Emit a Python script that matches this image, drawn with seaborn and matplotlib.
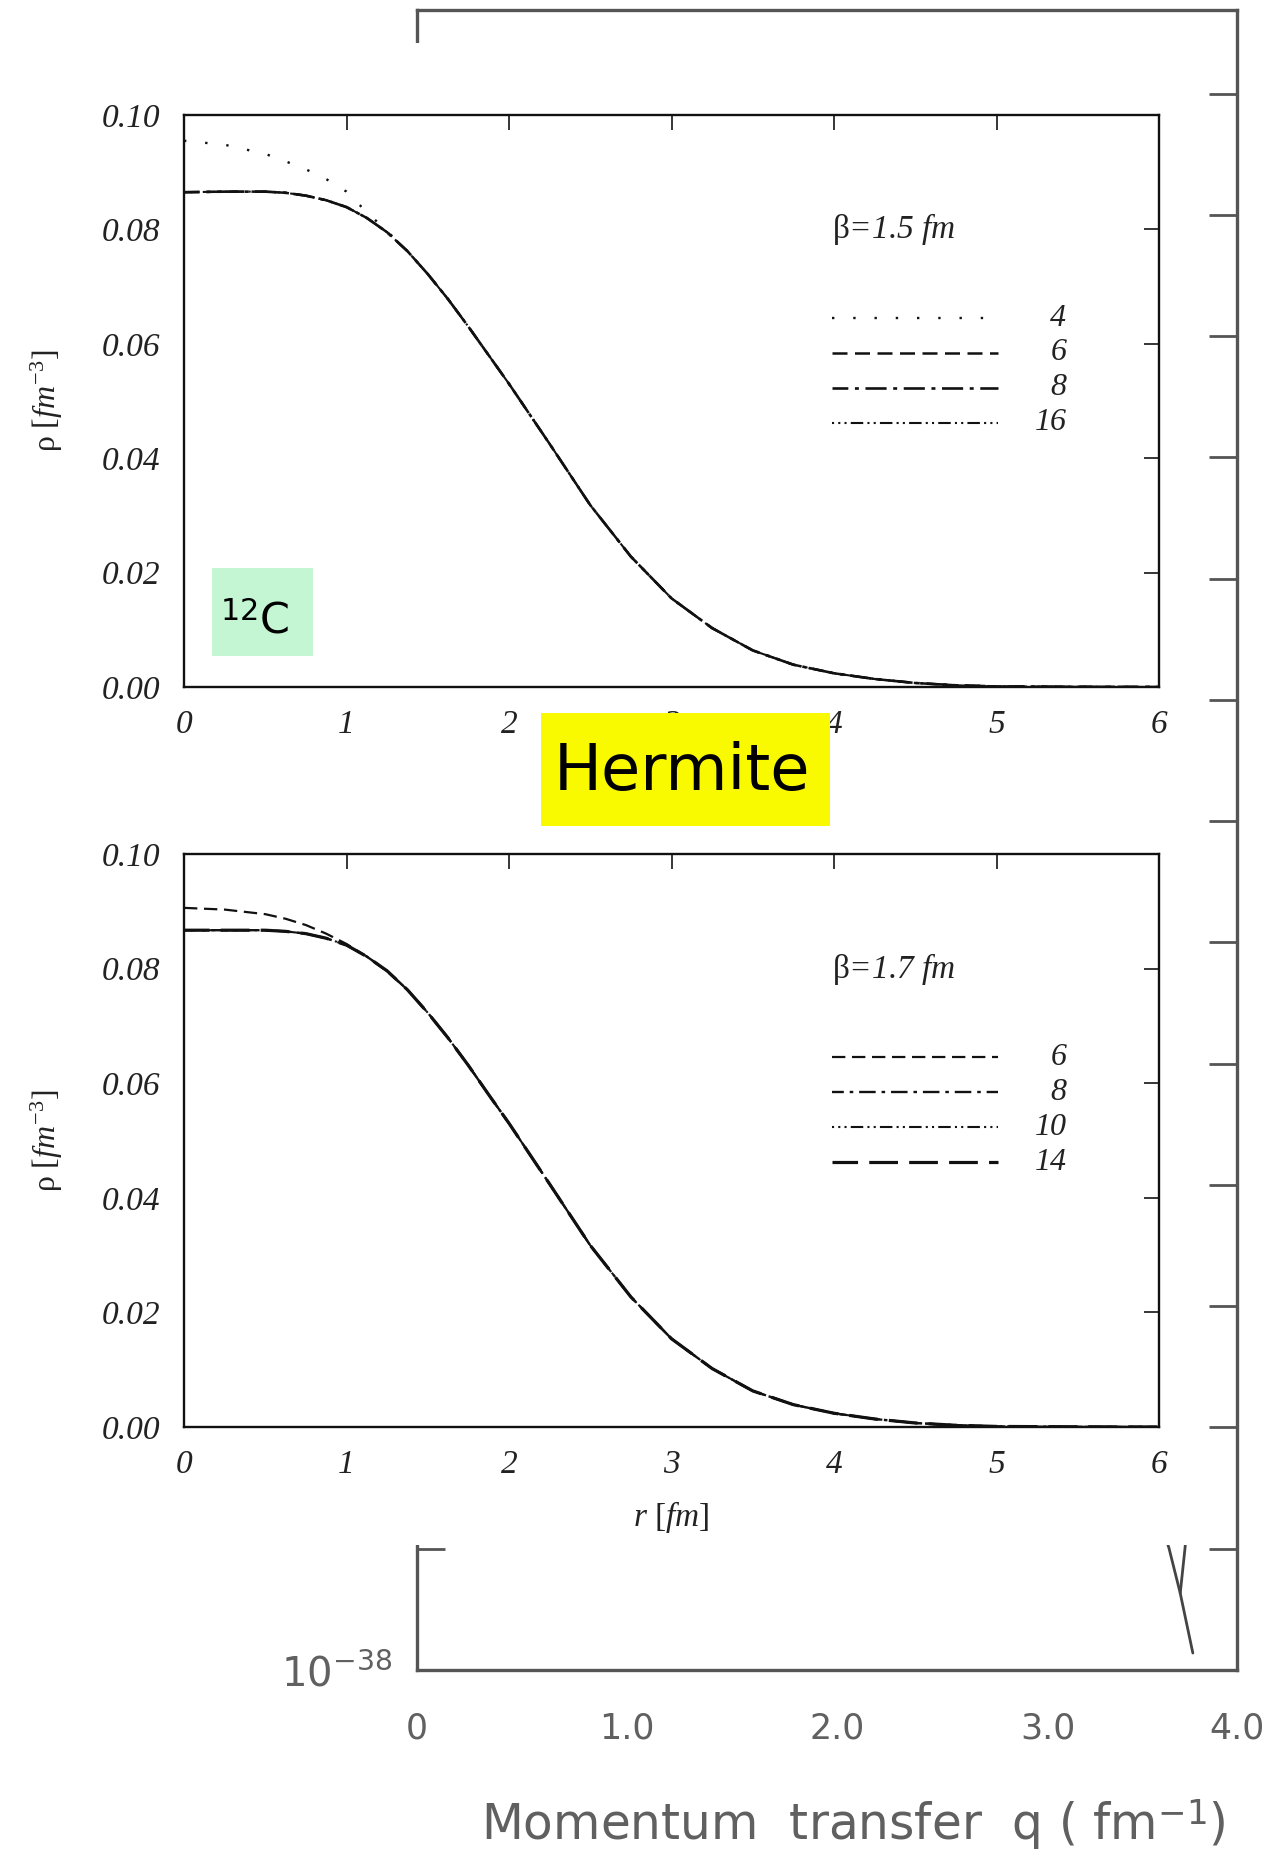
import numpy as np
import pandas as pd
import matplotlib
matplotlib.use("Agg")
import matplotlib.pyplot as plt
import seaborn as sns
from matplotlib.patches import Rectangle
from matplotlib.lines import Line2D
from matplotlib.ticker import FormatStrFormatter, NullLocator

# ---------------- data ----------------
r_fm = [0.0, 0.25, 0.5, 0.625, 0.75, 0.875, 1.0, 1.125, 1.25, 1.375, 1.5, 1.625, 1.75, 1.875,
        2.0, 2.25, 2.5, 2.75, 3.0, 3.25, 3.5, 3.75, 4.0, 4.25, 4.5, 4.75, 5.0, 5.5, 6.0]

# beta = 1.5 fm
rho_b15_n4 = [0.0955, 0.0948, 0.0932, 0.0919, 0.0905, 0.0888, 0.0866, 0.0830, 0.0797, 0.0762, 0.0722, 0.0678, 0.0630, 0.0580,
              0.0530, 0.0425, 0.0318, 0.0228, 0.0155, 0.0103, 0.0064, 0.0039, 0.0024, 0.0014, 0.0007, 0.0003, 0.0001, 0.00003, 0.0]
rho_b15_conv = [0.0865, 0.0866, 0.0866, 0.0864, 0.0859, 0.0851, 0.0839, 0.0820, 0.0795, 0.0762, 0.0722, 0.0678, 0.0630, 0.0580,
                0.0530, 0.0425, 0.0318, 0.0228, 0.0155, 0.0103, 0.0064, 0.0039, 0.0024, 0.0014, 0.0007, 0.0003, 0.0001, 0.00003, 0.0]

# beta = 1.7 fm
rho_b17_n6 = [0.0906, 0.0903, 0.0895, 0.0887, 0.0876, 0.0861, 0.0843, 0.0821, 0.0795, 0.0763, 0.0723, 0.0679, 0.0631, 0.0580,
              0.0530, 0.0424, 0.0317, 0.0227, 0.0154, 0.0102, 0.0063, 0.0039, 0.0024, 0.0014, 0.0007, 0.0003, 0.0001, 0.00003, 0.0]
rho_b17_conv = [0.0867, 0.0867, 0.0867, 0.0865, 0.0861, 0.0853, 0.0841, 0.0821, 0.0796, 0.0763, 0.0723, 0.0679, 0.0631, 0.0580,
                0.0530, 0.0424, 0.0317, 0.0227, 0.0154, 0.0102, 0.0063, 0.0039, 0.0024, 0.0014, 0.0007, 0.0003, 0.0001, 0.00003, 0.0]

labels_b15 = ["4", "6", "8", "16"]
labels_b17 = ["6", "8", "10", "14"]
series_b15 = {"4": rho_b15_n4, "6": rho_b15_conv, "8": rho_b15_conv, "16": rho_b15_conv}
series_b17 = {"6": rho_b17_n6, "8": rho_b17_conv, "10": rho_b17_conv, "14": rho_b17_conv}

# background (momentum-transfer) plot fragments
q_bg_a = [3.48, 3.576, 3.630, 3.690]
sig_bg_a = [3.2e-37, 1.02e-37, 4.3e-38, 1.38e-38]
q_bg_b = [3.630, 3.653, 3.675]
sig_bg_b = [4.3e-38, 1.02e-37, 3.2e-37]
bg_xticks = [0, 0.5, 1.0, 1.5, 2.0, 2.5, 3.0, 3.5, 3.9]
bg_xticklabels = ["0", "", "1.0", "", "2.0", "", "3.0", "", "4.0"]

# ---------------- style ----------------
sns.set_style("white")
plt.rcParams["font.family"] = ["Liberation Serif", "DejaVu Sans"]
plt.rcParams.update({
    "mathtext.fontset": "custom",
    "mathtext.rm": "Liberation Serif",
    "mathtext.it": "Liberation Serif:italic",
    "mathtext.bf": "Liberation Serif:bold",
    "mathtext.sf": "DejaVu Sans",
})

W, H = 1284, 1864
fig = plt.figure(figsize=(W / 100, H / 100), dpi=100)
fig.patch.set_facecolor("white")


def frect(x0, y0, x1, y1):
    return [x0 / W, 1 - y1 / H, (x1 - x0) / W, (y1 - y0) / H]


# ---------------- background plot ----------------
bg_col = "#555555"
ax_bg = fig.add_axes(frect(417, 10, 1237, 1670))
ax_bg.set_zorder(0)
ax_bg.set_yscale("log")
ax_bg.set_xlim(0, 3.9)
ax_bg.set_ylim(1e-38, 10 ** -24.31)
sns.lineplot(x=q_bg_a, y=sig_bg_a, ax=ax_bg, color="#444444", lw=2.0, sort=False, estimator=None)
sns.lineplot(x=q_bg_b, y=sig_bg_b, ax=ax_bg, color="#444444", lw=2.0, sort=False, estimator=None)
ax_bg.set_xticks(bg_xticks)
ax_bg.set_xticklabels(bg_xticklabels)
yt = [10.0 ** k for k in range(-38, -24)]
ax_bg.set_yticks(yt)
ax_bg.set_yticklabels([r"$\mathsf{10^{-38}}$"] + [""] * (len(yt) - 1))
ax_bg.yaxis.set_minor_locator(NullLocator())
ax_bg.tick_params(axis="x", direction="in", length=22, width=1.8, color=bg_col,
                  pad=30, labelsize=25, labelcolor="#606060", labelfontfamily="DejaVu Sans")
ax_bg.tick_params(axis="y", direction="in", length=20, width=2.0, color=bg_col,
                  left=True, right=True, pad=18, labelsize=29, labelcolor="#606060")
for s in ax_bg.spines.values():
    s.set_color(bg_col)
    s.set_linewidth(2.4)
fig.text(853 / W, 1 - 1825 / H, r"Momentum  transfer  q ( fm$^{\mathsf{-1}}$)",
         family="DejaVu Sans", fontsize=35, color="#606060", ha="center", va="center")

# white overlay
overlay = Rectangle((0, 1 - 1545 / H), 1195 / W, (1545 - 43) / H, transform=fig.transFigure,
                    facecolor="white", edgecolor="none", zorder=0.5)
fig.add_artist(overlay)

# ---------------- density panels ----------------
styles_b15 = {
    "4": dict(linestyle=(0, (1, 8)), lw=1.7),
    "6": dict(linestyle=(0, (6, 3)), lw=1.8),
    "8": dict(linestyle=(2, (8, 2.5, 1.5, 2.5)), lw=1.9),
    "16": dict(linestyle=(5, (6, 2, 1, 2, 1, 2)), lw=1.5),
}
styles_b17 = {
    "6": dict(linestyle=(0, (6, 3)), lw=1.6),
    "8": dict(linestyle=(2, (7, 2.5, 1.5, 2.5)), lw=1.7),
    "10": dict(linestyle=(5, (6, 2, 1, 2, 1, 2)), lw=1.5),
    "14": dict(linestyle=(1, (9, 3.5)), lw=2.3),
}


def panel(ax, series, labels, styles, beta_txt):
    ax.set_zorder(1)
    ax.set_facecolor("white")
    rows = []
    for n in labels:
        for rr, vv in zip(r_fm, series[n]):
            rows.append({"r": rr, "rho": vv, "N": n})
    df = pd.DataFrame(rows)
    for n in labels:
        sub = df[df["N"] == n]
        sns.lineplot(data=sub, x="r", y="rho", ax=ax, color="#111111", **styles[n])
    ax.set_xlim(0, 6)
    ax.set_ylim(0, 0.10)
    ax.set_xticks(range(0, 7))
    ax.set_yticks([0.0, 0.02, 0.04, 0.06, 0.08, 0.10])
    ax.yaxis.set_major_formatter(FormatStrFormatter("%.2f"))
    ax.tick_params(direction="in", top=True, right=True, length=11, width=1.3,
                   labelsize=24, labelcolor="#222222")
    ax.tick_params(axis="x", pad=16)
    ax.tick_params(axis="y", pad=17)
    for lbl in ax.get_xticklabels() + ax.get_yticklabels():
        lbl.set_fontstyle("italic")
    for s in ax.spines.values():
        s.set_linewidth(1.7)
        s.set_color("#111111")
    ax.set_xlabel("")
    ax.set_ylabel(r"$\mathrm{\rho}\ [fm^{-3}]$", fontsize=23, color="#222222")
    ax.yaxis.set_label_coords(-0.122, 0.5)
    # legend
    ax.text(0.665, 0.80, beta_txt, transform=ax.transAxes, fontsize=24, style="italic",
            ha="left", va="center", color="#222222")
    ys = [0.645, 0.584, 0.523, 0.462]
    for n, y in zip(labels, ys):
        ax.add_line(Line2D([0.665, 0.835], [y, y], transform=ax.transAxes,
                           color="#111111", **styles[n]))
        ax.text(0.905, y, n, transform=ax.transAxes, fontsize=23, style="italic",
                ha="right", va="center", color="#222222")
    if ax.get_legend() is not None:
        ax.get_legend().remove()


ax1 = fig.add_axes(frect(184, 115, 1159, 687))
panel(ax1, series_b15, labels_b15, styles_b15, r"$\mathrm{\beta}$=1.5 fm")
ax2 = fig.add_axes(frect(184, 854, 1159, 1427))
panel(ax2, series_b17, labels_b17, styles_b17, r"$\mathrm{\beta}$=1.7 fm")
ax2.set_xlabel(r"$r\ [fm]$", fontsize=24, color="#222222")
ax2.xaxis.set_label_coords(0.5, -0.125)

# 12C tag
ax1.add_patch(Rectangle((0.0287, 0.054), 0.1036, 0.154, transform=ax1.transAxes,
                        facecolor="#c4f6d4", edgecolor="none", zorder=3))
ax1.text(0.037, 0.094, r"$^{\mathsf{12}}$C", transform=ax1.transAxes, fontsize=31,
         family="DejaVu Sans", ha="left", va="baseline", color="black", zorder=4)

# Hermite tag
fig.add_artist(Rectangle((541 / W, 1 - 826 / H), (830 - 541) / W, (826 - 713) / H,
                         transform=fig.transFigure, facecolor="#f9f900", edgecolor="none", zorder=5))
fig.text(682 / W, 1 - 772 / H, "Hermite", family="DejaVu Sans", fontsize=46,
         ha="center", va="center", color="black", zorder=6)

fig.savefig("out.png", dpi=100, facecolor="white")
